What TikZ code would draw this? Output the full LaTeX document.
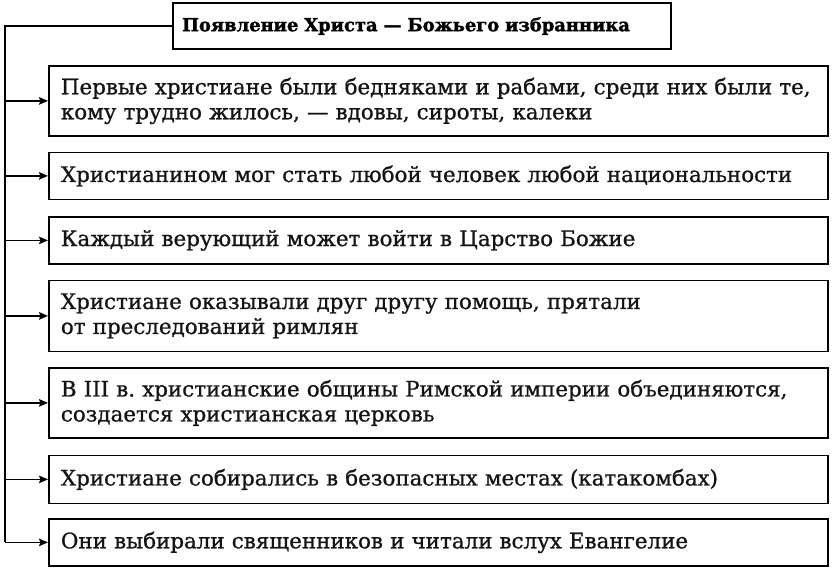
\documentclass[tikz,border=0pt]{standalone}
\usepackage{fontspec}
\setmainfont[FakeBold=0.9]{DejaVu Serif}
\newfontfamily\titlefont[FakeBold=1.6]{DejaVu Serif}
\usetikzlibrary{arrows.meta}
\frenchspacing
\tikzset{
  itembox/.style={draw=black, line width=1.8pt, anchor=north west, minimum width=779pt,
    text width=755pt, align=left, inner xsep=12pt, inner ysep=0pt,
    font=\fontsize{21.4}{25}\selectfont, text=black!92},
  titlebox/.style={draw=black, line width=2.2pt, anchor=north west, minimum width=498pt,
    minimum height=46pt, inner xsep=9pt, inner ysep=0pt, text width=480pt, align=left,
    font=\titlefont\bfseries\fontsize{17.9}{20}\selectfont},
  link/.style={line width=1.8pt, draw=black},
  arr/.style={link, -{Stealth[length=9pt,width=7.5pt,inset=1.5pt]}}
}
\begin{document}
\begin{tikzpicture}[x=1pt,y=-1pt]
\useasboundingbox[fill=white] (0,0) rectangle (836,578);
\node[titlebox] (title) at (172,2) {Появление Христа — Божьего избранника};
\node[itembox, minimum height=70pt] (b1) at (48,65) {Первые христиане были бедняками и рабами, среди них были те,\\кому трудно жилось, — вдовы, сироты, калеки};
\node[itembox, minimum height=47pt] (b2) at (48,151.5) {Христианином мог стать любой человек любой национальности};
\node[itembox, minimum height=47pt] (b3) at (48,216) {Каждый верующий может войти в Царство Божие};
\node[itembox, minimum height=71pt] (b4) at (48,279.5) {Христиане оказывали друг другу помощь, прятали\\от преследований римлян};
\node[itembox, minimum height=70pt] (b5) at (48,367) {В III в. христианские общины Римской империи объединяются,\\создается христианская церковь};
\node[itembox, minimum height=48pt] (b6) at (48,454.5) {Христиане собирались в безопасных местах (катакомбах)};
\node[itembox, minimum height=47pt] (b7) at (48,518) {Они выбирали священников и читали вслух Евангелие};
\coordinate (spine) at (5,0);
\draw[link] (title.west) -| (spine |- b7.west);
\foreach \b in {b1,b2,b3,b4,b5,b6,b7}{
  \draw[arr] (spine |- \b.west) -- (\b.west);
}
\end{tikzpicture}
\end{document}
